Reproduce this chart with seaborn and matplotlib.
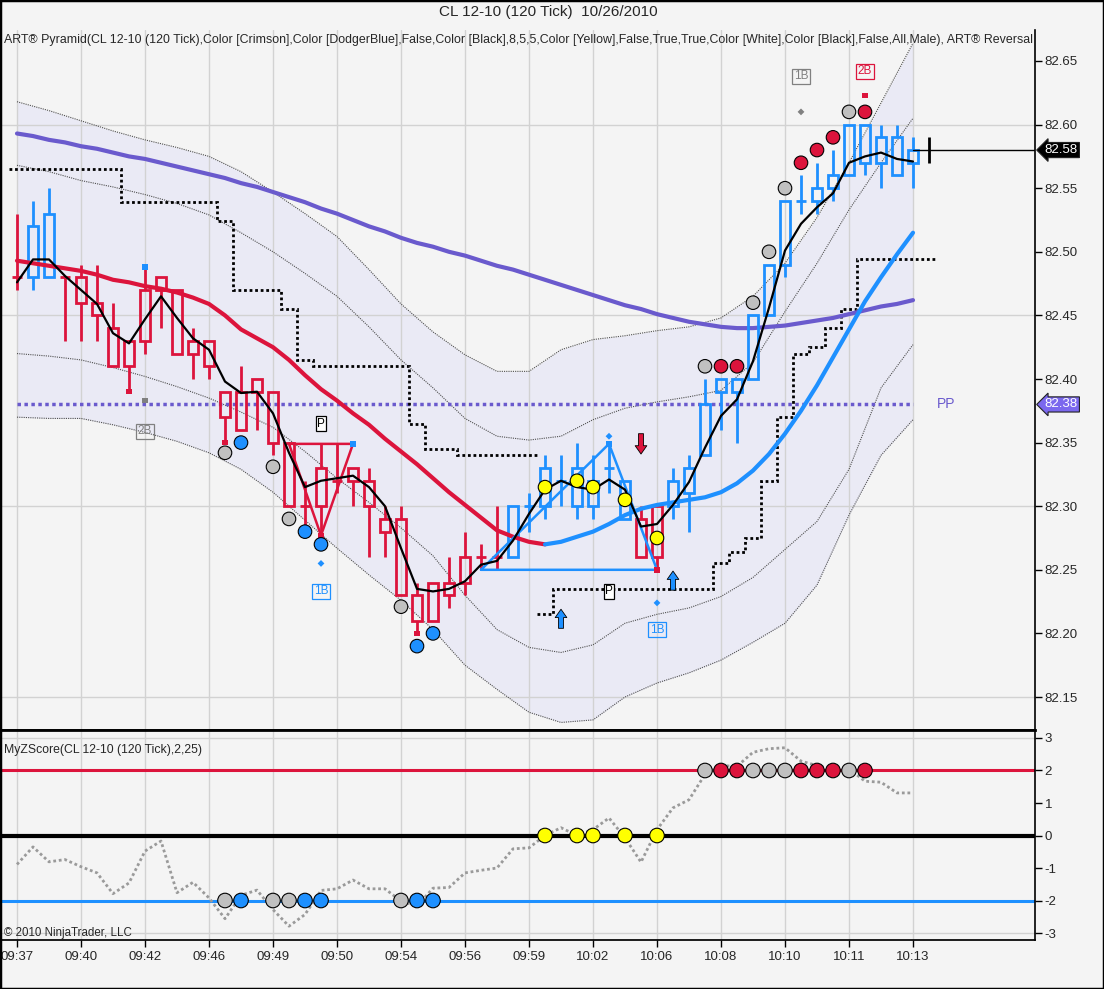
import numpy as np
import matplotlib
matplotlib.use("Agg")
import matplotlib.pyplot as plt
import seaborn as sns
from matplotlib.patches import Rectangle

# ---------------- data ----------------
time_labels = ['09:37', '09:40', '09:42', '09:46', '09:49', '09:50', '09:54', '09:56',
               '09:59', '10:02', '10:06', '10:08', '10:10', '10:11', '10:13']
label_bars = [0, 4, 8, 12, 16, 20, 24, 28, 32, 36, 40, 44, 48, 52, 56]

opens = [82.48, 82.48, 82.48, 82.48, 82.48, 82.46, 82.44, 82.43, 82.47, 82.48, 82.47, 82.43, 82.43,
         82.39, 82.39, 82.40, 82.39, 82.35, 82.30, 82.33, 82.32, 82.33, 82.32, 82.29, 82.29, 82.23,
         82.24, 82.24, 82.26, 82.26, 82.26, 82.26, 82.30, 82.30, 82.32, 82.30, 82.30, 82.33, 82.29,
         82.29, 82.30, 82.30, 82.31, 82.34, 82.39, 82.39, 82.40, 82.45, 82.49, 82.54, 82.54, 82.55,
         82.56, 82.57, 82.57, 82.56, 82.57]
closes = [82.48, 82.52, 82.53, 82.48, 82.46, 82.45, 82.41, 82.41, 82.43, 82.47, 82.42, 82.42, 82.41,
          82.37, 82.36, 82.39, 82.35, 82.30, 82.30, 82.30, 82.32, 82.32, 82.30, 82.28, 82.23, 82.21,
          82.21, 82.23, 82.24, 82.26, 82.26, 82.30, 82.30, 82.33, 82.32, 82.33, 82.32, 82.33, 82.32,
          82.26, 82.26, 82.32, 82.33, 82.38, 82.40, 82.40, 82.45, 82.49, 82.54, 82.54, 82.55, 82.56,
          82.60, 82.60, 82.59, 82.59, 82.58]
highs = [82.53, 82.54, 82.55, 82.48, 82.49, 82.49, 82.46, 82.43, 82.49, 82.48, 82.47, 82.44, 82.43,
         82.39, 82.41, 82.40, 82.39, 82.35, 82.32, 82.35, 82.35, 82.33, 82.33, 82.30, 82.30, 82.24,
         82.24, 82.26, 82.28, 82.27, 82.30, 82.30, 82.31, 82.34, 82.34, 82.35, 82.34, 82.35, 82.32,
         82.30, 82.30, 82.33, 82.34, 82.40, 82.40, 82.40, 82.45, 82.49, 82.54, 82.56, 82.57, 82.58,
         82.60, 82.60, 82.60, 82.60, 82.59]
lows = [82.47, 82.47, 82.48, 82.43, 82.43, 82.43, 82.41, 82.39, 82.42, 82.44, 82.42, 82.40, 82.40,
        82.35, 82.36, 82.36, 82.34, 82.30, 82.28, 82.28, 82.31, 82.30, 82.26, 82.26, 82.23, 82.20,
        82.21, 82.22, 82.23, 82.25, 82.25, 82.26, 82.28, 82.29, 82.30, 82.29, 82.29, 82.31, 82.29,
        82.26, 82.25, 82.29, 82.28, 82.34, 82.36, 82.35, 82.40, 82.45, 82.48, 82.53, 82.53, 82.54,
        82.56, 82.56, 82.55, 82.56, 82.55]
trend = list("rbb" + "r" * 28 + "b" * 8 + "rr" + "b" * 16)

trend_ma = [82.493, 82.491, 82.489, 82.487, 82.485, 82.482, 82.478, 82.476, 82.473, 82.471, 82.468,
            82.464, 82.459, 82.450, 82.439, 82.432, 82.425, 82.415, 82.403, 82.392, 82.383, 82.373,
            82.364, 82.353, 82.343, 82.333, 82.322, 82.311, 82.301, 82.291, 82.281, 82.276, 82.272,
            82.270, 82.272, 82.276, 82.280, 82.286, 82.293, 82.298, 82.301, 82.303, 82.305, 82.307,
            82.311, 82.318, 82.328, 82.341, 82.357, 82.375, 82.395, 82.417, 82.439, 82.461, 82.480,
            82.498, 82.515]
slow_ma = [82.593, 82.591, 82.588, 82.586, 82.583, 82.581, 82.578, 82.575, 82.573, 82.570, 82.567,
           82.564, 82.561, 82.558, 82.554, 82.551, 82.547, 82.543, 82.539, 82.534, 82.530, 82.525,
           82.520, 82.516, 82.511, 82.507, 82.504, 82.500, 82.497, 82.493, 82.489, 82.486, 82.482,
           82.478, 82.474, 82.470, 82.466, 82.462, 82.458, 82.455, 82.451, 82.448, 82.445, 82.443,
           82.441, 82.440, 82.440, 82.441, 82.442, 82.444, 82.446, 82.448, 82.451, 82.454, 82.457,
           82.459, 82.462]
fast_ma = [82.476, 82.494, 82.494, 82.481, 82.470, 82.459, 82.436, 82.428, 82.447, 82.465, 82.448,
           82.432, 82.423, 82.398, 82.389, 82.390, 82.373, 82.342, 82.315, 82.320, 82.322, 82.324,
           82.315, 82.300, 82.267, 82.235, 82.233, 82.235, 82.241, 82.254, 82.257, 82.273, 82.294,
           82.313, 82.320, 82.315, 82.313, 82.321, 82.313, 82.284, 82.286, 82.301, 82.319, 82.346,
           82.371, 82.384, 82.414, 82.456, 82.501, 82.522, 82.535, 82.546, 82.570, 82.575, 82.578,
           82.573, 82.571]

band_bars = [0, 2, 4, 6, 8, 10, 12, 14, 16, 18, 20, 22, 24, 26, 28, 30, 32, 34, 36, 38, 40,
             42, 44, 46, 48, 50, 52, 54, 56]
band_outer_up = [82.618, 82.611, 82.603, 82.595, 82.588, 82.582, 82.575, 82.563, 82.547, 82.530,
                 82.512, 82.486, 82.459, 82.437, 82.419, 82.406, 82.406, 82.423, 82.431, 82.434,
                 82.438, 82.441, 82.448, 82.465, 82.491, 82.527, 82.570, 82.617, 82.664]
band_inner_up = [82.568, 82.563, 82.556, 82.551, 82.545, 82.538, 82.529, 82.515, 82.500, 82.483,
                 82.465, 82.441, 82.415, 82.393, 82.369, 82.355, 82.352, 82.355, 82.368, 82.377,
                 82.382, 82.386, 82.391, 82.413, 82.453, 82.491, 82.533, 82.570, 82.605]
band_inner_dn = [82.420, 82.418, 82.415, 82.409, 82.402, 82.394, 82.385, 82.374, 82.362, 82.343,
                 82.322, 82.303, 82.283, 82.261, 82.230, 82.203, 82.189, 82.185, 82.191, 82.208,
                 82.215, 82.220, 82.229, 82.244, 82.266, 82.288, 82.329, 82.393, 82.427]
band_outer_dn = [82.370, 82.369, 82.369, 82.364, 82.358, 82.351, 82.342, 82.329, 82.311, 82.289,
                 82.267, 82.246, 82.226, 82.203, 82.175, 82.156, 82.138, 82.130, 82.132, 82.150,
                 82.161, 82.169, 82.179, 82.193, 82.208, 82.238, 82.293, 82.340, 82.368]

stop_short = ([82.565] * 7 + [82.539] * 6 + [82.524] + [82.470] * 3 + [82.455] + [82.415] +
              [82.410] * 6 + [82.365] + [82.345] * 2 + [82.340] * 5)          # bars 0..32
stop_long = ([82.215] + [82.235] * 10 + [82.255, 82.264, 82.275, 82.320, 82.370, 82.420,
             82.425, 82.440, 82.455] + [82.494] * 5)                          # bars 33..57

pivot = 82.38
last_price = 82.58

dot_bars = [13, 14, 16, 17, 18, 19, 24, 25, 26, 33, 35, 36, 38, 40,
            43, 44, 45, 46, 47, 48, 49, 50, 51, 52, 53]
dot_prices = [82.342, 82.350, 82.331, 82.290, 82.280, 82.270, 82.221, 82.190, 82.200,
              82.315, 82.320, 82.315, 82.305, 82.275,
              82.410, 82.410, 82.410, 82.460, 82.500, 82.550, 82.570, 82.580, 82.590, 82.610, 82.610]
dot_kind = ['gray', 'blue', 'gray', 'gray', 'blue', 'blue', 'gray', 'blue', 'blue',
            'yellow', 'yellow', 'yellow', 'yellow', 'yellow',
            'gray', 'red', 'red', 'gray', 'gray', 'gray', 'red', 'red', 'red', 'gray', 'red']
dot_level = [-2] * 9 + [0] * 5 + [2] * 11

sq_bars = [7, 8, 8, 13, 19, 21, 25, 37, 40, 53]
sq_prices = [82.39, 82.488, 82.383, 82.35, 82.277, 82.349, 82.20, 82.349, 82.25, 82.623]
sq_kind = ['red', 'blue', 'dgray', 'red', 'red', 'blue', 'red', 'blue', 'red', 'red']
dia_bars = [19, 37, 40, 49]
dia_prices = [82.255, 82.355, 82.224, 82.610]
dia_kind = ['blue', 'blue', 'blue', 'dgray']

tag_text = ['2B', '1B', '1B', '1B', '2B', 'P', 'P']
tag_bars = [8, 19, 40, 49, 53, 19, 37]
tag_prices = [82.359, 82.233, 82.203, 82.638, 82.642, 82.365, 82.233]
tag_kind = ['dgray', 'blue', 'blue', 'dgray', 'red', 'black', 'black']

pyr_red_bars = [17, 21, 19, 17]
pyr_red_prices = [82.349, 82.349, 82.277, 82.349]
pyr_blue_bars = [29, 37, 40, 29]
pyr_blue_prices = [82.250, 82.349, 82.250, 82.250]

arrow_bars = [34, 41, 39]
arrow_tail = [82.204, 82.234, 82.357]
arrow_tip = [82.219, 82.249, 82.341]
arrow_kind = ['blue', 'blue', 'red']

zscore = [-0.89, -0.35, -0.81, -0.74, -0.96, -1.15, -1.79, -1.46, -0.48, -0.17, -1.76, -1.44,
          -1.92, -2.56, -1.84, -1.68, -2.28, -2.79, -2.43, -1.69, -1.64, -1.37, -1.64, -1.64,
          -2.02, -2.17, -1.62, -1.60, -1.15, -1.07, -1.00, -0.41, -0.38, 0.00, 0.24, 0.00, 0.18,
          0.54, -0.07, -0.82, 0.18, 0.85, 1.10, 1.88, 2.15, 2.13, 2.56, 2.67, 2.70, 2.29, 2.15,
          2.03, 2.05, 1.67, 1.64, 1.31, 1.31]

# ---------------- style ----------------
BG = '#f4f4f4'
RED = '#dc143c'
BLUE = '#1e90ff'
PURPLE = '#6a5acd'
BANDFILL = '#eaeaf5'
GRID = '#d2d2d2'
palette = {'gray': '#c0c0c0', 'blue': BLUE, 'red': RED, 'yellow': '#ffff00',
           'dgray': '#808080', 'black': 'black'}

sns.set_theme(style='white', rc={'axes.facecolor': BG, 'figure.facecolor': BG})
plt.rcParams['font.family'] = ['Liberation Sans', 'DejaVu Sans']

W, H = 1104, 989
fig = plt.figure(figsize=(W / 100, H / 100), dpi=100, facecolor=BG)
ax1 = fig.add_axes([1 / W, (H - 730) / H, 1034 / W, 700 / H], facecolor=BG)
ax2 = fig.add_axes([1 / W, (H - 940) / H, 1034 / W, 210 / H], facecolor=BG)

xmin, xmax = (1 - 17) / 16, (1035 - 17) / 16
for ax in (ax1, ax2):
    ax.set_xlim(xmin, xmax)
    ax.set_xticks(label_bars)
    ax.grid(False)
    for b in label_bars:
        ax.axvline(b, color=GRID, lw=1, zorder=0.5)
    ax.spines['top'].set_visible(False)
    ax.spines['left'].set_visible(False)
    ax.spines['right'].set_color('black')
    ax.spines['bottom'].set_color('black')
    ax.spines['right'].set_linewidth(1.2)

ax1.set_ylim(82.65 - (730 - 61) / 1272, 82.65 + (61 - 30) / 1272)
ax2.set_ylim(-3.215, 3.246)

x = np.arange(len(opens))

# horizontal grid (price)
for p in [82.15, 82.30, 82.45, 82.60]:
    ax1.axhline(p, color=GRID, lw=1, zorder=0.5)

# bands
ax1.fill_between(band_bars, band_outer_dn, band_outer_up, color=BANDFILL, lw=0, zorder=0.3)
for arr in (band_outer_up, band_inner_up, band_inner_dn, band_outer_dn):
    sns.lineplot(x=band_bars, y=arr, ax=ax1, color='#505050', lw=0.8,
                 linestyle=(0, (1, 1)), zorder=1)

# pivot line
ax1.plot([0, len(opens) - 1], [pivot, pivot], color=PURPLE, lw=2.5, linestyle=(0, (1, 1)), zorder=2)
ax1.text(58.1, pivot, 'PP', color=PURPLE, fontsize=10, ha='center', va='center')

# stops
ax1.stairs(stop_short, np.arange(-0.5, len(stop_short)), baseline=None, color='black',
           lw=2, linestyle=(0, (1, 1)), zorder=2)
ax1.stairs(stop_long, np.arange(len(stop_short) - 0.5, len(stop_short) + len(stop_long)),
           baseline=None, color='black', lw=2, linestyle=(0, (1, 1)), zorder=2)

# slow MA
sns.lineplot(x=x, y=slow_ma, ax=ax1, color=PURPLE, lw=3, zorder=3)

# candles
o = np.array(opens); c = np.array(closes); hi = np.array(highs); lo = np.array(lows)
top = np.maximum(o, c); bot = np.minimum(o, c)
cols = [RED if t == 'r' else BLUE for t in trend]
ax1.vlines(x, top, hi, colors=cols, lw=2, zorder=4)
ax1.vlines(x, lo, bot, colors=cols, lw=2, zorder=4)
ax1.bar(x, top - bot, bottom=bot, width=0.64, fill=False, edgecolor=cols, linewidth=2, zorder=4)

# trend MA (crimson -> dodgerblue)
split = 33
sns.lineplot(x=x[:split + 1], y=trend_ma[:split + 1], ax=ax1, color=RED, lw=3, zorder=5)
sns.lineplot(x=x[split:], y=trend_ma[split:], ax=ax1, color=BLUE, lw=3, zorder=5)

# fast MA
sns.lineplot(x=x, y=fast_ma, ax=ax1, color='black', lw=1.6, zorder=6)

# pyramids
ax1.plot(pyr_red_bars, pyr_red_prices, color=RED, lw=1.8, zorder=5)
ax1.plot(pyr_blue_bars, pyr_blue_prices, color=BLUE, lw=1.8, zorder=5)

# squares & diamonds
ax1.scatter(sq_bars, sq_prices, marker='s', s=16, c=[palette[k] for k in sq_kind], zorder=7, lw=0)
ax1.scatter(dia_bars, dia_prices, marker='D', s=12, c=[palette[k] for k in dia_kind], zorder=7, lw=0)

# text tags
for t, b, p, k in zip(tag_text, tag_bars, tag_prices, tag_kind):
    colr = palette[k]
    fc = 'white' if k == 'black' else 'none'
    ax1.text(b, p, t, color=colr, fontsize=8.5, ha='center', va='center', zorder=8,
             bbox=dict(boxstyle='square,pad=0.12', fc=fc, ec=colr, lw=0.9))

# arrows
for b, t0, t1, k in zip(arrow_bars, arrow_tail, arrow_tip, arrow_kind):
    ax1.annotate('', xy=(b, t1), xytext=(b, t0), zorder=8,
                 arrowprops=dict(arrowstyle='simple,head_length=0.5,head_width=0.7,tail_width=0.3',
                                 fc=palette[k], ec='black', lw=0.6, shrinkA=0, shrinkB=0))

# dots (top panel)
sns.scatterplot(x=dot_bars, y=dot_prices, hue=dot_kind, palette=palette, s=95,
                edgecolor='black', linewidth=0.8, legend=False, ax=ax1, zorder=9)

# last price line and cross
ax1.plot([len(opens) - 1, xmax], [last_price, last_price], color='black', lw=1, zorder=6)
ax1.plot([len(opens)], [last_price], marker='|', ms=19, mew=2, color='black', zorder=6)

# right axis ticks (price)
ax1.yaxis.tick_right()
ax1.set_yticks([82.15, 82.20, 82.25, 82.30, 82.35, 82.40, 82.45, 82.50, 82.55, 82.60, 82.65])
ax1.yaxis.set_major_formatter(matplotlib.ticker.FormatStrFormatter('%.2f'))
ax1.tick_params(axis='y', which='both', right=True, length=5, width=1, color='black',
                labelsize=9.5, pad=2)
ax1.tick_params(axis='x', length=0, labelbottom=False)
ax1.set_xlabel(''); ax1.set_ylabel('')

# price tags
for val, fc in [(last_price, 'black'), (pivot, '#7b68ee')]:
    ax1.annotate(f'{val:.2f}', xy=(1, val), xycoords=('axes fraction', 'data'),
                 xytext=(7, 0), textcoords='offset points', ha='left', va='center',
                 color='white', fontsize=9.5, annotation_clip=False, zorder=10,
                 bbox=dict(boxstyle='larrow,pad=0.12', fc=fc, ec='#222222', lw=0.8))

# indicator label
ax1.text(3 / 1034, 1 - 10 / 700,
         'ART\u00ae Pyramid(CL 12-10 (120 Tick),Color [Crimson],Color [DodgerBlue],False,'
         'Color [Black],8,5,5,Color [Yellow],False,True,True,Color [White],Color [Black],'
         'False,All,Male), ART\u00ae Reversal',
         transform=ax1.transAxes, ha='left', va='center', fontsize=8.9, clip_on=True, zorder=10)

# ---------------- lower panel ----------------
ax2.axhline(3, color=GRID, lw=1, zorder=0.5)
ax2.axhline(-3, color=GRID, lw=1, zorder=0.5)
ax2.axhline(2, color=RED, lw=2.2, zorder=2)
ax2.axhline(0, color='black', lw=3, zorder=2)
ax2.axhline(-2, color=BLUE, lw=2.2, zorder=2)
sns.lineplot(x=x, y=zscore, ax=ax2, color='#9a9a9a', lw=2, linestyle=(0, (1, 1)), zorder=3)
sns.scatterplot(x=dot_bars, y=dot_level, hue=dot_kind, palette=palette, s=110,
                edgecolor='black', linewidth=0.8, legend=False, ax=ax2, zorder=4)

ax2.yaxis.tick_right()
ax2.set_yticks([-3, -2, -1, 0, 1, 2, 3])
ax2.set_yticklabels(['-3', '-2', '-1', '0', '1', '2', '3'])
ax2.tick_params(axis='y', right=True, length=5, width=1, color='black', labelsize=9.5, pad=2)
ax2.set_xticklabels(time_labels)
ax2.tick_params(axis='x', bottom=True, length=5, width=1, color='black', labelsize=9.5, pad=3)
ax2.spines['top'].set_visible(True)
ax2.spines['top'].set_color('black')
ax2.spines['top'].set_linewidth(2)
ax2.set_xlabel(''); ax2.set_ylabel('')

ax2.text(3 / 1034, (940 - 750) / 210, 'MyZScore(CL 12-10 (120 Tick),2,25)',
         transform=ax2.transAxes, ha='left', va='center', fontsize=8.8)
ax2.text(3 / 1034, (940 - 933) / 210, '\u00a9 2010 NinjaTrader, LLC',
         transform=ax2.transAxes, ha='left', va='center', fontsize=8.3)

# title and outer frame
fig.text(548 / W, 1 - 12 / H, 'CL 12-10 (120 Tick)  10/26/2010', ha='center', va='center',
         fontsize=11)
fig.patches.append(Rectangle((0, 0), 1, 1, transform=fig.transFigure, fill=False,
                             ec='black', lw=2.5))

fig.savefig('out.png', dpi=100, facecolor=BG)
